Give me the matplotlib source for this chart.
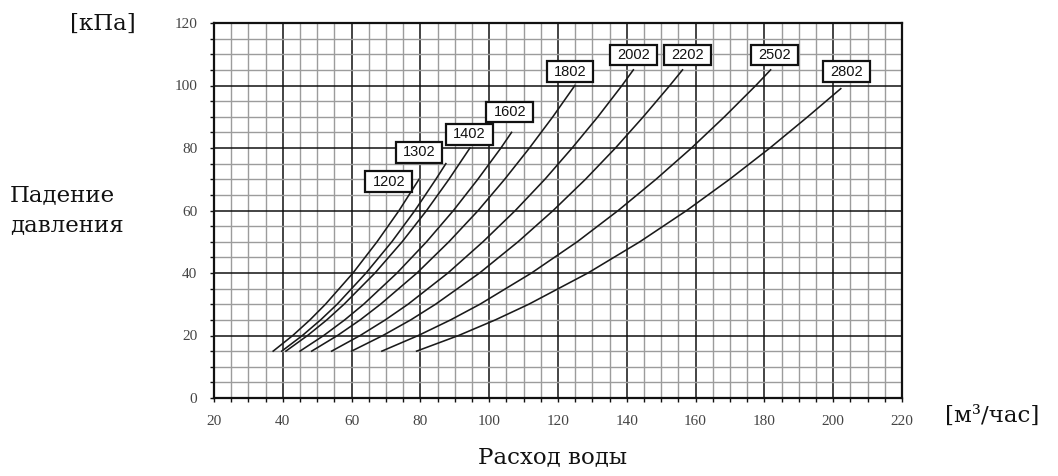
import matplotlib
matplotlib.use('Agg')
import matplotlib.pyplot as plt
from matplotlib.ticker import MultipleLocator
from matplotlib.patches import Rectangle

# ── Data: flow (m3/h) at given pressure drop (kPa) ─────────────────────────
models = ['1202', '1302', '1402', '1602', '1802', '2002', '2202', '2502', '2802']

dp_1202 = [15, 20, 25, 30, 40, 50, 60, 70]
q_1202 = [37.2, 42.9, 47.9, 52.4, 60.4, 67.4, 73.8, 79.6]

dp_1302 = [15, 20, 25, 30, 40, 50, 60, 70, 75]
q_1302 = [39.7, 45.7, 51.0, 55.8, 64.2, 71.7, 78.4, 84.5, 87.4]

dp_1402 = [15, 20, 25, 30, 40, 50, 60, 70, 80]
q_1402 = [40.9, 47.2, 52.8, 57.8, 66.8, 74.7, 81.8, 88.3, 94.4]

dp_1602 = [15, 20, 25, 30, 40, 50, 60, 70, 80, 85]
q_1602 = [45.0, 51.9, 58.0, 63.5, 73.2, 81.8, 89.6, 96.7, 103.4, 106.5]

dp_1802 = [15, 20, 25, 30, 40, 50, 60, 70, 80, 90, 100]
q_1802 = [48.4, 55.9, 62.5, 68.4, 79.0, 88.3, 96.8, 104.5, 111.7, 118.5, 124.9]

dp_2002 = [15, 20, 25, 30, 40, 50, 60, 70, 80, 90, 100, 105]
q_2002 = [54.2, 62.5, 69.8, 76.4, 88.0, 98.2, 107.6, 116.2, 124.1, 131.6, 138.6, 141.9]

dp_2202 = [15, 20, 25, 30, 40, 50, 60, 70, 80, 90, 100, 105]
q_2202 = [60.0, 69.1, 77.2, 84.4, 97.2, 108.4, 118.6, 128.0, 136.7, 144.8, 152.5, 156.2]

dp_2502 = [15, 20, 25, 30, 40, 50, 60, 70, 80, 90, 100, 105]
q_2502 = [68.8, 79.4, 88.8, 97.3, 112.3, 125.6, 137.5, 148.5, 158.8, 168.4, 177.5, 181.8]

dp_2802 = [15, 20, 25, 30, 40, 50, 60, 70, 80, 90, 99]
q_2802 = [78.9, 91.1, 101.8, 111.5, 128.7, 143.8, 157.4, 169.9, 181.6, 192.6, 202.2]

curves_q = [q_1202, q_1302, q_1402, q_1602, q_1802, q_2002, q_2202, q_2502, q_2802]
curves_dp = [dp_1202, dp_1302, dp_1402, dp_1602, dp_1802, dp_2002, dp_2202, dp_2502, dp_2802]

# label box centres (data coords)
label_x = [70.8, 79.6, 94.2, 106.0, 123.5, 141.9, 157.6, 182.9, 203.8]
label_y = [69.2, 78.6, 84.4, 91.5, 104.4, 109.8, 109.8, 109.8, 104.4]

x_ticks = [20, 40, 60, 80, 100, 120, 140, 160, 180, 200, 220]
y_ticks = [0, 20, 40, 60, 80, 100, 120]

# ── Figure ──────────────────────────────────────────────────────────────────
W, H = 1058, 476
plt.rcParams['font.family'] = 'Liberation Serif'
fig = plt.figure(figsize=(W / 100, H / 100), dpi=100)
fig.patch.set_facecolor('white')

ax = fig.add_axes([214 / W, 1 - 398 / H, 688 / W, 375 / H])
ax.set_xlim(20, 220)
ax.set_ylim(0, 120)
ax.set_xticks(x_ticks)
ax.set_yticks(y_ticks)
ax.xaxis.set_minor_locator(MultipleLocator(5))
ax.yaxis.set_minor_locator(MultipleLocator(5))

ax.set_axisbelow(True)
ax.grid(which='minor', color='#9c9c9c', linewidth=1.0)
ax.grid(which='major', color='#111111', linewidth=1.1)

for sp in ax.spines.values():
    sp.set_linewidth(1.6)
    sp.set_color('#111111')

ax.tick_params(which='both', direction='out', length=3, width=1.0, color='#111111')
ax.tick_params(which='major', labelsize=11, labelcolor='#444444', pad=9)

# ── Curves ──────────────────────────────────────────────────────────────────
for q, dp in zip(curves_q, curves_dp):
    ax.plot(q, dp, color='#1a1a1a', linewidth=1.15, zorder=3)

# ── Model labels in boxes ───────────────────────────────────────────────────
box_w, box_h = 13.6, 6.6
for name, lx, ly in zip(models, label_x, label_y):
    ax.add_patch(Rectangle((lx - box_w / 2, ly - box_h / 2), box_w, box_h,
                           facecolor='white', edgecolor='#111111',
                           linewidth=1.6, zorder=5, clip_on=False))
    ax.text(lx, ly, name, ha='center', va='center', fontsize=10.5,
            family='Liberation Sans', color='#111111', zorder=6)

# ── Axis texts ──────────────────────────────────────────────────────────────
serif = 'DejaVu Serif'
fs = 16.5
fig.text(103 / W, 1 - 24 / H, '[кПа]', ha='center', va='center',
         fontsize=fs, family=serif, color='#111111')
fig.text(10 / W, 1 - 195 / H, 'Падение', ha='left', va='center',
         fontsize=fs, family=serif, color='#111111')
fig.text(10 / W, 1 - 225 / H, 'давления', ha='left', va='center',
         fontsize=fs, family=serif, color='#111111')
fig.text(945 / W, 1 - 416 / H, '[м³/час]', ha='left', va='center',
         fontsize=fs, family=serif, color='#111111')
fig.text(553 / W, 1 - 457 / H, 'Расход воды', ha='center', va='center',
         fontsize=fs, family=serif, color='#111111')

fig.savefig('out.png', dpi=100, facecolor='white')
plt.close(fig)
